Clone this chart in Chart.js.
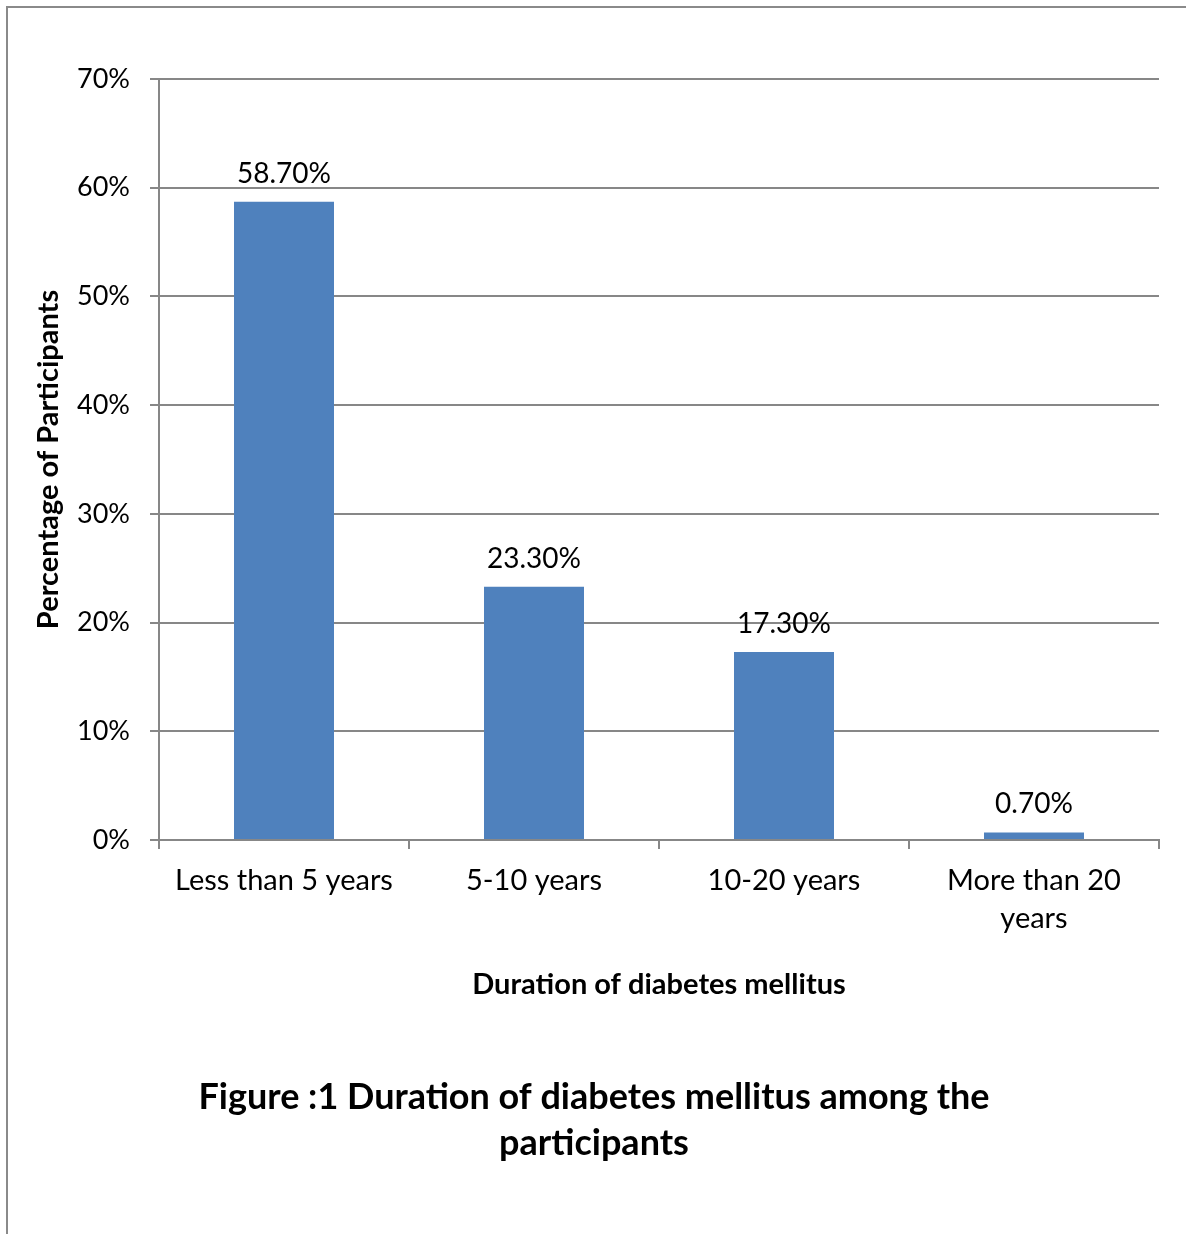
<!DOCTYPE html>
<html>
<head>
<meta charset="utf-8">
<script src="https://cdn.jsdelivr.net/npm/chart.js@4/dist/chart.umd.min.js"></script>
<style>
  html, body { margin: 0; padding: 0; background: #ffffff; }
  canvas { display: block; }
</style>
</head>
<body>
<canvas id="chart" width="1186" height="1234"></canvas>
<script>
// Duration of diabetes among study participants (% of participants)
const categories = ['Less than 5 years', '5-10 years', '10-20 years', ['More than 20', 'years']];
const percentages = [58.7, 23.3, 17.3, 0.7];
const yTicks = [0, 10, 20, 30, 40, 50, 60, 70];
const captionLines = ['Figure :1 Duration of diabetes mellitus among the', 'participants'];

const FONT = 'Lato, "Open Sans", "DejaVu Sans", sans-serif';
const GRID = '#878787';

// Frame around the whole figure
const framePlugin = {
  id: 'frame',
  beforeDraw(chart) {
    const ctx = chart.ctx;
    ctx.save();
    ctx.fillStyle = '#ffffff';
    ctx.fillRect(0, 0, chart.width, chart.height);
    ctx.strokeStyle = '#8a8a8a';
    ctx.lineWidth = 2;
    ctx.strokeRect(7, 7, chart.width + 20, chart.height + 20);
    ctx.restore();
  }
};

// Value labels above each bar
const valueLabels = {
  id: 'valueLabels',
  afterDatasetsDraw(chart) {
    const ctx = chart.ctx;
    const meta = chart.getDatasetMeta(0);
    ctx.save();
    ctx.font = '28px ' + FONT;
    ctx.fillStyle = '#000000';
    ctx.textAlign = 'center';
    ctx.textBaseline = 'bottom';
    meta.data.forEach((bar, i) => {
      ctx.fillText(percentages[i].toFixed(2) + '%', bar.x, bar.y - 14);
    });
    ctx.restore();
  }
};

// Figure caption below the chart
const captionPlugin = {
  id: 'caption',
  afterDraw(chart) {
    const ctx = chart.ctx;
    ctx.save();
    ctx.font = 'bold 36px ' + FONT;
    ctx.fillStyle = '#000000';
    ctx.textAlign = 'center';
    ctx.textBaseline = 'middle';
    captionLines.forEach((line, i) => {
      ctx.fillText(line, 594, 1097 + i * 46);
    });
    ctx.restore();
  }
};

new Chart(document.getElementById('chart'), {
  type: 'bar',
  data: {
    labels: categories,
    datasets: [{
      data: percentages,
      backgroundColor: '#4F81BD',
      borderWidth: 0,
      barPercentage: 0.4,
      categoryPercentage: 1.0
    }]
  },
  options: {
    responsive: false,
    animation: false,
    devicePixelRatio: 1,
    layout: { padding: { top: 79, right: 27, left: 0, bottom: 224 } },
    plugins: {
      legend: { display: false },
      tooltip: { enabled: false },
      title: { display: false }
    },
    scales: {
      x: {
        grid: {
          offset: true,
          drawOnChartArea: false,
          drawTicks: true,
          tickLength: 9,
          color: GRID,
          lineWidth: 2
        },
        border: { display: true, color: GRID, width: 2 },
        ticks: {
          color: '#000000',
          font: { family: FONT, size: 29, lineHeight: 1.3 },
          padding: 13,
          maxRotation: 0,
          autoSkip: false
        },
        title: {
          display: true,
          text: 'Duration of diabetes mellitus',
          color: '#000000',
          font: { family: FONT, size: 29, weight: 'bold' },
          padding: { top: 0, bottom: 8 }
        },
        afterFit(scale) { scale.height = 170; }
      },
      y: {
        min: 0,
        max: 70,
        afterBuildTicks(scale) { scale.ticks = yTicks.map(v => ({ value: v })); },
        grid: {
          color: GRID,
          lineWidth: 2,
          tickLength: 9,
          drawTicks: true
        },
        border: { display: true, color: GRID, width: 2 },
        ticks: {
          color: '#000000',
          font: { family: FONT, size: 27 },
          padding: 20,
          callback: v => v + '%'
        },
        title: {
          display: true,
          text: 'Percentage of Participants',
          color: '#000000',
          font: { family: FONT, size: 29, weight: 'bold' },
          padding: { top: 31, bottom: 0 }
        },
        afterFit(scale) { scale.width = 159; }
      }
    }
  },
  plugins: [framePlugin, valueLabels, captionPlugin]
});
</script>
</body>
</html>
